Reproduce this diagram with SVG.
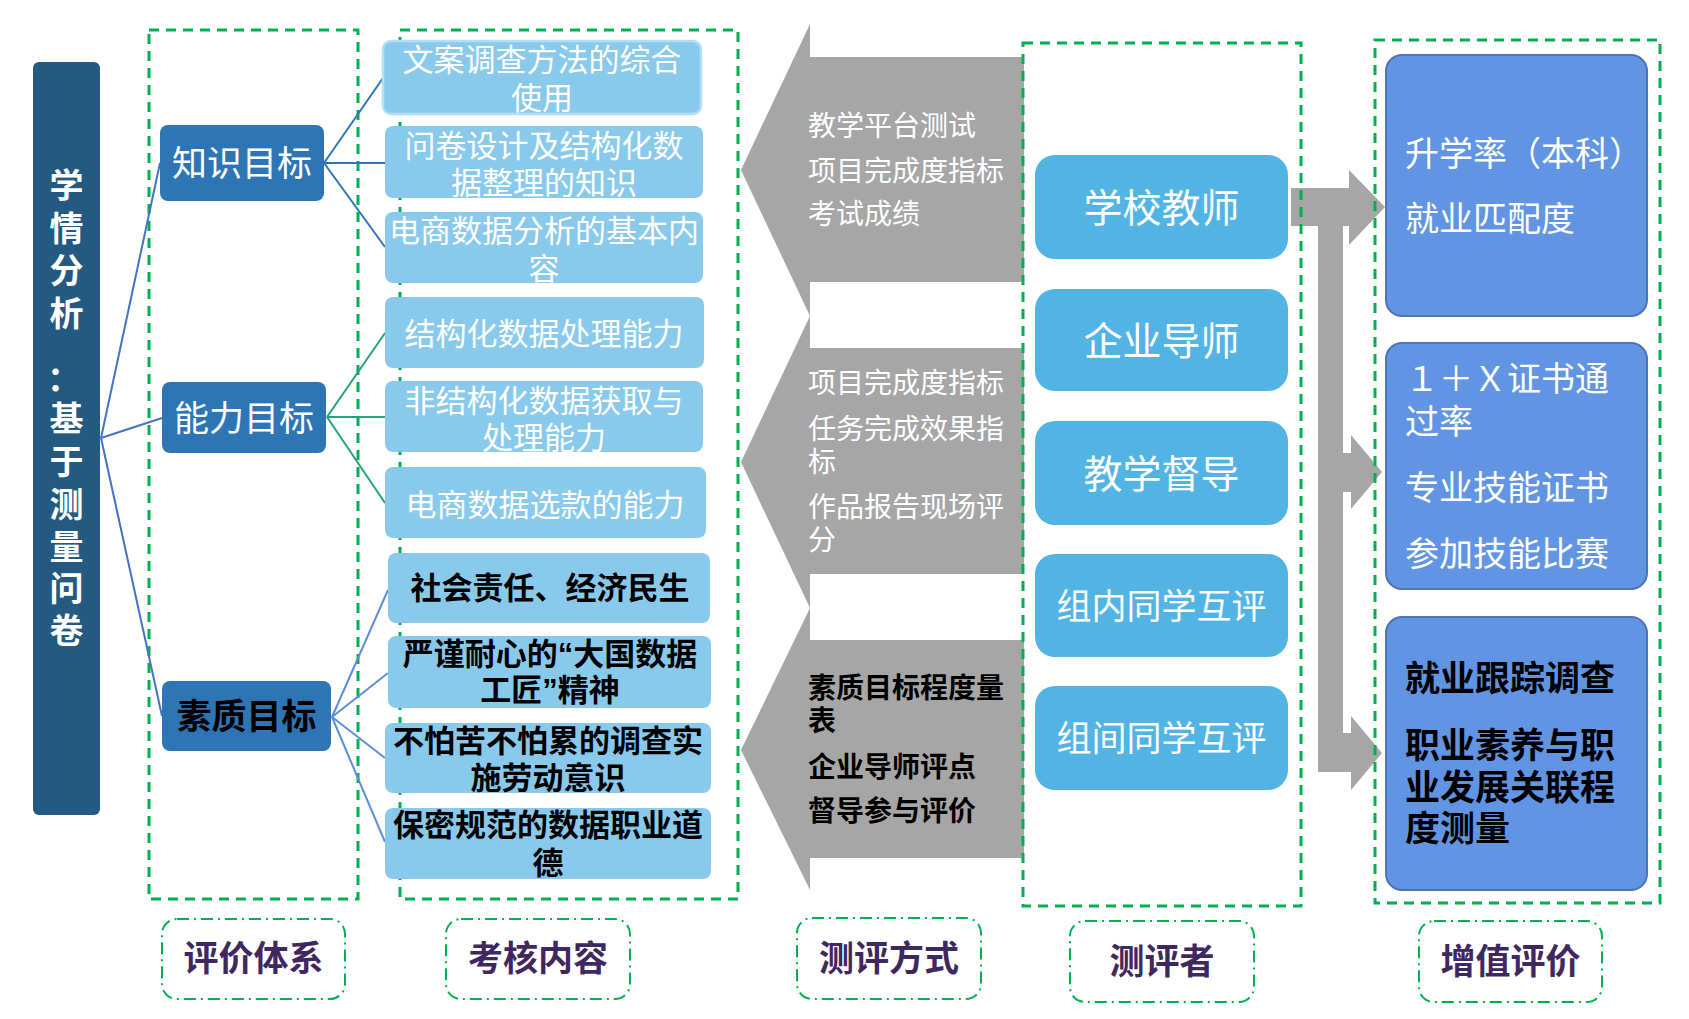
<svg xmlns="http://www.w3.org/2000/svg" width="1689" height="1019" viewBox="0 0 1689 1019">
<style>
text{font-family:"Noto Sans CJK SC","Microsoft YaHei",sans-serif;}
.q{font-family:"Liberation Sans",sans-serif;}
.dash{fill:none;stroke:#00B050;stroke-width:3;stroke-dasharray:10 7;}
.lbl{fill:#fff;stroke:#00B050;stroke-width:2;stroke-dasharray:12 5 2 5;}
.lbltxt{font-size:35px;font-weight:700;fill:#3F2760;text-anchor:middle;}
.gray{fill:#A6A6A6;}
.goal{fill:#2E75B6;}
.cbox{fill:#89CAEC;}
.ctxt{font-size:31px;fill:#fff;text-anchor:middle;}
.cbold{font-size:31px;font-weight:700;fill:#000;text-anchor:middle;}
.atxt{font-size:28px;fill:#fff;}
.abold{font-size:28px;font-weight:700;fill:#000;}
.eval{fill:#52B4E4;}
.etxt{fill:#fff;text-anchor:middle;}
.vbox{fill:#6195E3;stroke:#4D74B5;stroke-width:2;}
.vtxt{font-size:34px;fill:#fff;}
.vbold{font-size:35px;font-weight:700;fill:#000;}
.l0{stroke:#4472C4;stroke-width:2;fill:none;}
.l1{stroke:#2E75B6;stroke-width:2;fill:none;}
.l2{stroke:#22A37C;stroke-width:2;fill:none;}
.l3{stroke:#5B8EDB;stroke-width:2;fill:none;}
</style>

<!-- gray method arrows -->
<g id="method-arrows">
<polygon id="arrow-1" class="gray" points="810,24 810,57 1024,57 1024,282 810,282 810,316 741,170"/>
<polygon id="arrow-2" class="gray" points="810,316 810,348 1024,348 1024,574 810,574 810,608 741,462"/>
<polygon id="arrow-3" class="gray" points="810,608 810,640 1024,640 1024,858 810,858 810,890 741,750"/>
</g>

<!-- gray flow to value-added -->
<g id="value-arrows">
<rect class="gray" x="1291" y="188" width="58" height="38"/>
<polygon class="gray" points="1349,170 1385,207 1349,245"/>
<rect class="gray" x="1318" y="188" width="25" height="584"/>
<rect class="gray" x="1342" y="453" width="10" height="39"/>
<polygon class="gray" points="1351,435 1382,472 1351,509"/>
<rect class="gray" x="1318" y="733" width="34" height="39"/>
<polygon class="gray" points="1351,716 1382,753 1351,790"/>
</g>

<!-- dashed group frames -->
<g id="frames">
<rect class="dash" x="149" y="30" width="209" height="869"/>
<rect class="dash" x="400" y="30" width="338" height="869"/>
<rect class="dash" x="1023" y="43" width="278" height="863"/>
<rect class="dash" x="1375" y="40" width="285" height="863"/>
</g>

<!-- connectors -->
<g id="connectors">
<line class="l0" x1="101" y1="438" x2="160" y2="163"/>
<line class="l0" x1="101" y1="438" x2="162" y2="418"/>
<line class="l0" x1="101" y1="438" x2="162" y2="716"/>
<line class="l1" x1="324" y1="163" x2="383" y2="78"/>
<line class="l1" x1="324" y1="163" x2="385" y2="163"/>
<line class="l1" x1="324" y1="163" x2="385" y2="247"/>
<line class="l2" x1="327" y1="417" x2="385" y2="333"/>
<line class="l2" x1="327" y1="417" x2="385" y2="417"/>
<line class="l2" x1="327" y1="417" x2="385" y2="503"/>
<line class="l3" x1="332" y1="717" x2="388" y2="590"/>
<line class="l3" x1="332" y1="717" x2="388" y2="673"/>
<line class="l3" x1="332" y1="717" x2="385" y2="758"/>
<line class="l3" x1="332" y1="717" x2="385" y2="842"/>
</g>

<!-- root -->
<g id="root">
<rect x="33" y="62" width="67" height="753" rx="6" fill="#245A82"/>
<text font-size="34" font-weight="700" fill="#fff" text-anchor="middle">
<tspan x="66.5" y="198">学</tspan><tspan x="66.5" y="241">情</tspan><tspan x="66.5" y="283">分</tspan><tspan x="66.5" y="326">析</tspan><tspan x="64" y="391">：</tspan><tspan x="66.5" y="431">基</tspan><tspan x="66.5" y="474">于</tspan><tspan x="66.5" y="517">测</tspan><tspan x="66.5" y="559">量</tspan><tspan x="66.5" y="601">问</tspan><tspan x="66.5" y="643">卷</tspan>
</text>
</g>

<!-- goals -->
<g id="goal-knowledge"><rect class="goal" x="160" y="125" width="164" height="76" rx="8"/><text x="242" y="176" font-size="35" fill="#fff" text-anchor="middle">知识目标</text></g>
<g id="goal-ability"><rect class="goal" x="162" y="382" width="164" height="71" rx="8"/><text x="244" y="431" font-size="35" fill="#fff" text-anchor="middle">能力目标</text></g>
<g id="goal-quality"><rect class="goal" x="162" y="681" width="169" height="70" rx="8"/><text x="246.5" y="729" font-size="35" font-weight="700" fill="#000" text-anchor="middle">素质目标</text></g>

<!-- content boxes -->
<g id="c1"><rect class="cbox" x="383" y="41" width="318" height="73" rx="8" stroke="#B2DFF5" stroke-width="2.5"/><text class="ctxt"><tspan x="542" y="71">文案调查方法的综合</tspan><tspan x="542" y="109">使用</tspan></text></g>
<g id="c2"><rect class="cbox" x="385" y="126" width="318" height="72" rx="8"/><text class="ctxt"><tspan x="544" y="157">问卷设计及结构化数</tspan><tspan x="544" y="194">据整理的知识</tspan></text></g>
<g id="c3"><rect class="cbox" x="385" y="212" width="318" height="71" rx="8"/><text class="ctxt"><tspan x="544" y="242">电商数据分析的基本内</tspan><tspan x="544" y="280">容</tspan></text></g>
<g id="c4"><rect class="cbox" x="385" y="297" width="319" height="71" rx="8"/><text class="ctxt" x="544" y="345">结构化数据处理能力</text></g>
<g id="c5"><rect class="cbox" x="385" y="381" width="318" height="71" rx="8"/><text class="ctxt"><tspan x="544" y="412">非结构化数据获取与</tspan><tspan x="544" y="449">处理能力</tspan></text></g>
<g id="c6"><rect class="cbox" x="385" y="467" width="321" height="71" rx="8"/><text class="ctxt" x="545" y="516">电商数据选款的能力</text></g>
<g id="c7"><rect class="cbox" x="388" y="553" width="322" height="70" rx="8"/><text class="cbold" x="550" y="599">社会责任、经济民生</text></g>
<g id="c8"><rect class="cbox" x="388" y="636" width="323" height="72" rx="8"/><text class="cbold"><tspan x="550" y="665">严谨耐心的<tspan class="q">“</tspan>大国数据</tspan><tspan x="550" y="701">工匠<tspan class="q">”</tspan>精神</tspan></text></g>
<g id="c9"><rect class="cbox" x="385" y="723" width="326" height="70" rx="8"/><text class="cbold"><tspan x="548" y="752">不怕苦不怕累的调查实</tspan><tspan x="548" y="789">施劳动意识</tspan></text></g>
<g id="c10"><rect class="cbox" x="385" y="808" width="326" height="71" rx="8"/><text class="cbold"><tspan x="548" y="836">保密规范的数据职业道</tspan><tspan x="548" y="874">德</tspan></text></g>

<!-- method texts -->
<g id="method-1-text"><text class="atxt"><tspan x="808" y="136">教学平台测试</tspan><tspan x="808" y="181">项目完成度指标</tspan><tspan x="808" y="224">考试成绩</tspan></text></g>
<g id="method-2-text"><text class="atxt"><tspan x="808" y="393">项目完成度指标</tspan><tspan x="808" y="439">任务完成效果指</tspan><tspan x="808" y="472">标</tspan><tspan x="808" y="517">作品报告现场评</tspan><tspan x="808" y="550">分</tspan></text></g>
<g id="method-3-text"><text class="abold"><tspan x="808" y="698">素质目标程度量</tspan><tspan x="808" y="731">表</tspan><tspan x="808" y="777">企业导师评点</tspan><tspan x="808" y="821">督导参与评价</tspan></text></g>

<!-- evaluators -->
<g id="e1"><rect class="eval" x="1035" y="155" width="253" height="104" rx="20"/><text class="etxt" x="1161.5" y="222" font-size="39">学校教师</text></g>
<g id="e2"><rect class="eval" x="1035" y="289" width="253" height="102" rx="20"/><text class="etxt" x="1161.5" y="355" font-size="39">企业导师</text></g>
<g id="e3"><rect class="eval" x="1035" y="421" width="253" height="104" rx="20"/><text class="etxt" x="1161.5" y="488" font-size="39">教学督导</text></g>
<g id="e4"><rect class="eval" x="1035" y="554" width="253" height="103" rx="20"/><text class="etxt" x="1161.5" y="619" font-size="35">组内同学互评</text></g>
<g id="e5"><rect class="eval" x="1035" y="686" width="253" height="104" rx="20"/><text class="etxt" x="1161.5" y="751" font-size="35">组间同学互评</text></g>

<!-- value-added boxes -->
<g id="v1"><rect class="vbox" x="1386" y="55" width="261" height="261" rx="16"/><text class="vtxt"><tspan x="1405" y="166">升学率（本科）</tspan><tspan x="1405" y="231">就业匹配度</tspan></text></g>
<g id="v2"><rect class="vbox" x="1386" y="343" width="261" height="246" rx="16"/><text class="vtxt"><tspan x="1405" y="391">１＋Ｘ证书通</tspan><tspan x="1405" y="434">过率</tspan><tspan x="1405" y="500">专业技能证书</tspan><tspan x="1405" y="566">参加技能比赛</tspan></text></g>
<g id="v3"><rect class="vbox" x="1386" y="617" width="261" height="273" rx="16"/><text class="vbold"><tspan x="1405" y="691">就业跟踪调查</tspan><tspan x="1405" y="758">职业素养与职</tspan><tspan x="1405" y="800">业发展关联程</tspan><tspan x="1405" y="841">度测量</tspan></text></g>

<!-- bottom labels -->
<g id="label-1"><rect class="lbl" x="162" y="919" width="183" height="80" rx="15"/><text class="lbltxt" x="253.5" y="971">评价体系</text></g>
<g id="label-2"><rect class="lbl" x="446" y="919" width="184" height="80" rx="15"/><text class="lbltxt" x="538" y="971">考核内容</text></g>
<g id="label-3"><rect class="lbl" x="797" y="918" width="184" height="81" rx="15"/><text class="lbltxt" x="889" y="971">测评方式</text></g>
<g id="label-4"><rect class="lbl" x="1070" y="921" width="184" height="81" rx="15"/><text class="lbltxt" x="1162" y="974">测评者</text></g>
<g id="label-5"><rect class="lbl" x="1419" y="921" width="183" height="81" rx="15"/><text class="lbltxt" x="1510.5" y="974">增值评价</text></g>
</svg>
